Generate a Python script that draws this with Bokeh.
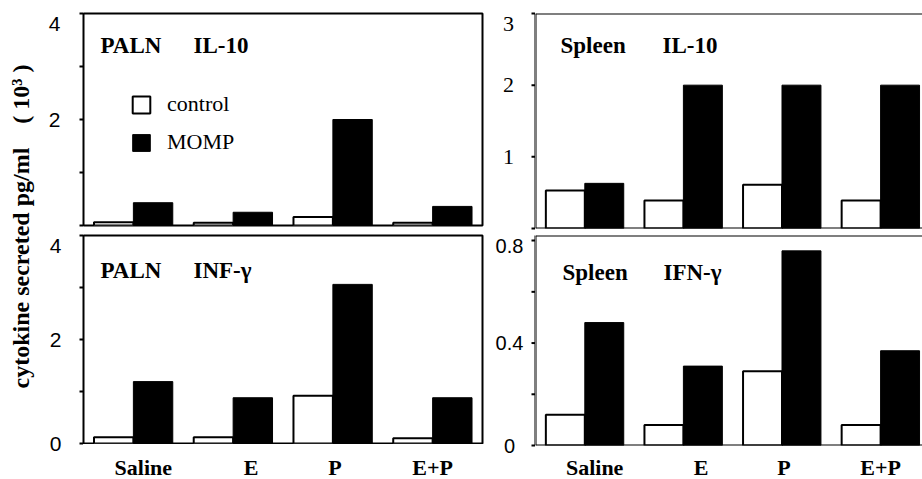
import numpy as np
from math import pi
from bokeh.plotting import figure
from bokeh.models import (Label, Legend, LegendItem, Span, ColumnDataSource, Range1d)
from bokeh.layouts import row, column
from bokeh.embed import file_html
from bokeh.resources import INLINE

# ---------------- data ----------------
groups = ["Saline", "E", "P", "E+P"]
series_names = ["control", "MOMP"]

paln_il10_control = [0.06, 0.05, 0.16, 0.05]
paln_il10_momp = [0.43, 0.25, 2.00, 0.36]

spleen_il10_control = [0.53, 0.39, 0.61, 0.39]
spleen_il10_momp = [0.63, 2.00, 2.00, 2.00]

paln_inf_control = [0.12, 0.12, 0.92, 0.10]
paln_inf_momp = [1.19, 0.88, 3.06, 0.88]

spleen_ifn_control = [0.12, 0.08, 0.29, 0.08]
spleen_ifn_momp = [0.48, 0.31, 0.76, 0.37]

paln_il10_ticks = [0, 1, 2, 3, 4]
paln_il10_ticklabels = ["", "", "2", "", "4"]
spleen_il10_ticks = [0, 1, 2, 3]
spleen_il10_ticklabels = ["", "1", "2", "3"]
paln_inf_ticks = [0, 1, 2, 3, 4]
paln_inf_ticklabels = ["0", "", "2", "", "4"]
spleen_ifn_ticks = [0, 0.2, 0.4, 0.6, 0.8]
spleen_ifn_ticklabels = ["0", "", "0.4", "", "0.8"]

NB = "\u00a0"
y_title = "cytokine secreted pg/ml" + NB * 4 + "(" + NB + "10\u00b3" + NB + ")"

# ---------------- style / layout ----------------
SERIF = "Liberation Serif"
SANS = "Liberation Sans"
BAR_W = 0.395
LABEL_SHIFT = [0.10, 0.18, 0.02, 0.0]
TICK_LEN = 4
TOP_CLAMP = 10     # px: tick labels never centred higher than this below frame top
PAGE_H = 479


def base_fig(**kw):
    p = figure(output_backend="svg", toolbar_location=None, title=None, **kw)
    p.grid.visible = False
    p.background_fill_color = "white"
    p.border_fill_color = "white"
    return p


def make_panel(ctrl, momp, y_max, x_max, fw, fh, right, top, bottom, boxed,
               titles, title_dy):
    p = base_fig(frame_width=fw, frame_height=fh,
                 x_range=Range1d(0, x_max), y_range=Range1d(0, y_max),
                 min_border_left=0, min_border_right=right,
                 min_border_top=top, min_border_bottom=bottom)
    p.axis.visible = False

    centers = np.arange(len(groups)) + 0.5
    src = ColumnDataSource(dict(xc=centers - BAR_W / 2, xm=centers + BAR_W / 2,
                                ctrl=ctrl, momp=momp))
    rc = p.vbar(x="xc", top="ctrl", bottom=0, width=BAR_W, source=src,
                fill_color="white", line_color="black", line_width=2)
    rm = p.vbar(x="xm", top="momp", bottom=0, width=BAR_W, source=src,
                fill_color="black", line_color="black", line_width=1)

    if boxed:
        p.outline_line_color = "black"
        p.outline_line_width = 2
        p.outline_line_alpha = 1
    else:
        p.outline_line_color = None
        p.add_layout(Span(location=y_max, dimension="width", line_color="black", line_width=2))
        p.add_layout(Span(location=0, dimension="width", line_color="black", line_width=2))
        p.add_layout(Span(location=0, dimension="height", line_color="black", line_width=2))

    for txt, dx in titles:
        p.add_layout(Label(x=dx / fw * x_max, y=y_max - title_dy / fh * y_max,
                           text=txt, text_font=SERIF, text_font_style="bold",
                           text_font_size="23px", text_color="black",
                           text_align="left", text_baseline="middle"))
    return p, rc, rm


def tick_strip(width, top, fh, bottom, y_max, ticks, ticklabels, font, size, center_dist):
    """Y axis (line, tick marks, tick labels) drawn left of a panel with the same y scale."""
    h = top + fh + bottom
    s = base_fig(width=width, height=h, min_border=0,
                 x_range=Range1d(0, width),
                 y_range=Range1d(-bottom * y_max / fh, y_max + top * y_max / fh))
    s.axis.visible = False
    s.outline_line_color = None
    s.segment(x0=[width], x1=[width], y0=[0], y1=[y_max], line_color="black", line_width=2)
    s.segment(x0=width - TICK_LEN, x1=width, y0=ticks, y1=ticks,
              line_color="black", line_width=2)
    y_cap = y_max - TOP_CLAMP * y_max / fh
    for t, lab in zip(ticks, ticklabels):
        if lab:
            s.add_layout(Label(x=width - center_dist, y=min(t, y_cap), text=lab,
                               text_font=font, text_font_size=size, text_color="black",
                               text_align="center", text_baseline="middle"))
    return s


def x_strip(panel, fw, right, height, strip_top, center_y):
    s = base_fig(frame_width=fw, frame_height=height,
                 x_range=panel.x_range, y_range=Range1d(height, 0),
                 min_border_left=0, min_border_right=right,
                 min_border_top=0, min_border_bottom=0)
    s.axis.visible = False
    s.outline_line_color = None
    centers = np.arange(len(groups)) + 0.5
    for g, c, sh in zip(groups, centers, LABEL_SHIFT):
        s.add_layout(Label(x=c + sh, y=center_y - strip_top, text=g,
                           text_font=SERIF, text_font_style="bold",
                           text_font_size="22px", text_color="black",
                           text_align="center", text_baseline="middle"))
    return s


X_MAX_L = 4.0
X_MAX_R = 3.925
FW_L, FW_R = 399, 387
SW_L, SW_R = 43, 45
ROW1_H = 232

# top row (height 232)
p1, rc1, rm1 = make_panel(paln_il10_control, paln_il10_momp, 4, X_MAX_L, FW_L, 212,
                          8, 13, 7, True, [("PALN", 17), ("IL-10", 110)], 32)
p2, _, _ = make_panel(spleen_il10_control, spleen_il10_momp, 3, X_MAX_R, FW_R, 215,
                      0, 13, 4, False, [("Spleen", 25), ("IL-10", 127)], 32)
s1 = tick_strip(SW_L, 13, 212, 7, 4, paln_il10_ticks, paln_il10_ticklabels, SANS, "21px", 29)
s2 = tick_strip(SW_R, 13, 215, 4, 3, spleen_il10_ticks, spleen_il10_ticklabels, SERIF, "22px", 27)

# bottom row (height 247)
p3, _, _ = make_panel(paln_inf_control, paln_inf_momp, 4, X_MAX_L, FW_L, 208,
                      8, 3, 1, True, [("PALN", 17), ("INF-\u03b3", 110)], 35)
p4, _, _ = make_panel(spleen_ifn_control, spleen_ifn_momp, 0.82, X_MAX_R, FW_R, 210,
                      0, 3, 1, False, [("Spleen", 27), ("IFN-\u03b3", 128)], 37)
x3 = x_strip(p3, FW_L, 8, 35, ROW1_H + 3 + 208 + 1, 467)
x4 = x_strip(p4, FW_R, 0, 33, ROW1_H + 3 + 210 + 1, 467)
s3 = tick_strip(SW_L, 3, 208, 36, 4, paln_inf_ticks, paln_inf_ticklabels, SANS, "21px", 28)
s4 = tick_strip(SW_R, 3, 210, 34, 0.82, spleen_ifn_ticks, spleen_ifn_ticklabels, SANS, "20px", 26)

legend = Legend(items=[LegendItem(label=series_names[0], renderers=[rc1]),
                       LegendItem(label=series_names[1], renderers=[rm1])],
                location=(47, 70), orientation="vertical")
legend.margin = 0
legend.padding = 0
legend.spacing = 12
legend.glyph_width = 22
legend.glyph_height = 21
legend.label_standoff = 15
legend.label_text_font = SERIF
legend.label_text_font_size = "22px"
legend.label_text_color = "black"
legend.border_line_color = None
legend.background_fill_alpha = 0
p1.add_layout(legend)

# shared y title
lab = base_fig(width=40, height=PAGE_H, min_border=0,
               x_range=Range1d(0, 40), y_range=Range1d(PAGE_H, 0))
lab.axis.visible = False
lab.outline_line_color = None
lab.add_layout(Label(x=20, y=226, text=y_title, angle=pi / 2,
                     text_font=SERIF, text_font_style="bold", text_font_size="24px",
                     text_color="black", text_align="center", text_baseline="middle"))

# every plot wrapped on its own so that rows do not align plot frames
top_row = row(column(s1), column(p1), column(s2), column(p2))
bottom_row = row(column(s3), column(p3, x3), column(s4), column(p4, x4))
layout = row(column(lab), column(top_row, bottom_row))

with open("out.html", "w") as f:
    f.write(file_html(layout, INLINE))
